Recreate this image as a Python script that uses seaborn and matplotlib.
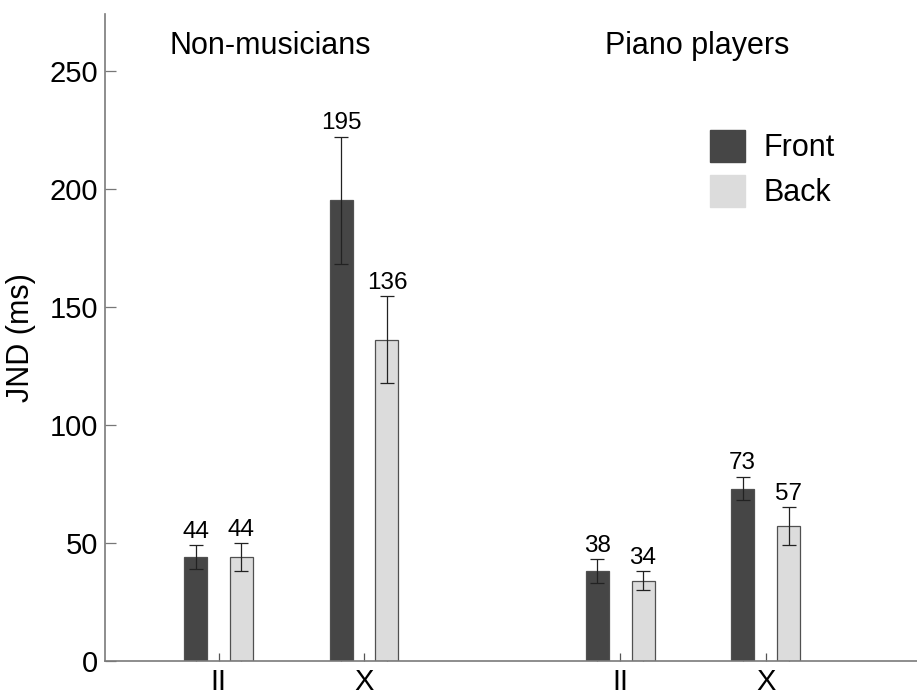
import matplotlib
matplotlib.use("Agg")
import matplotlib.pyplot as plt
import matplotlib.patches as mpatches
import numpy as np
import pandas as pd
import seaborn as sns

# Data
groups = ["Non-musicians", "Piano players"]
postures = ["II", "X"]
conditions = ["Front", "Back"]
front_jnd = [44, 195, 38, 73]
back_jnd = [44, 136, 34, 57]
front_err = [5, 27, 5, 5]
back_err = [6, 18.5, 4, 8]
labels_front = ["44", "195", "38", "73"]
labels_back = ["44", "136", "34", "57"]

colors = {"Front": "#464646", "Back": "#dcdcdc"}

sns.set_theme(style="white")
plt.rcParams["font.family"] = ["Liberation Sans", "DejaVu Sans"]
plt.rcParams["text.color"] = "black"
plt.rcParams["axes.labelcolor"] = "black"
plt.rcParams["xtick.labelcolor"] = "black"
plt.rcParams["ytick.labelcolor"] = "black"

# x layout: posture centres within each group, with a wider gap between groups
centres = np.array([1.0, 2.0, 3.76, 4.76])
offset = 0.1575
bar_w = 0.158

rows = []
for i, c in enumerate(centres):
    g = groups[i // 2]
    p = postures[i % 2]
    rows.append(dict(group=g, posture=p, condition="Front", pos=c - offset,
                     jnd=front_jnd[i], err=front_err[i], label=labels_front[i]))
    rows.append(dict(group=g, posture=p, condition="Back", pos=c + offset,
                     jnd=back_jnd[i], err=back_err[i], label=labels_back[i]))
df = pd.DataFrame(rows)

fig = plt.figure(figsize=(9.17, 6.97), dpi=100)
ax = fig.add_axes([0.1145, 0.0517, 0.8855, 0.9283])

for cond in conditions:
    sub = df[df.condition == cond]
    sns.barplot(data=sub, x="pos", y="jnd", native_scale=True, width=bar_w,
                color=colors[cond], saturation=1, edgecolor="#505050",
                linewidth=0.9, errorbar=None, ax=ax)

ax.errorbar(df.pos, df.jnd, yerr=df.err, fmt="none", ecolor="#222222",
            elinewidth=0.9, capsize=5, capthick=0.9, zorder=5)

for _, r in df.iterrows():
    ax.text(r.pos, r.jnd + r.err + 1.0, r.label, ha="center", va="bottom",
            fontsize=17.5, color="black")

ax.set_xlim(0.22, 5.8)
ax.set_ylim(0, 274)

# ticks at every bar and at each posture centre; labels only at centres
ax.set_xticks(centres)
ax.set_xticklabels(postures * 2, fontsize=21)
ax.set_xticks(df.pos.values, minor=True)
ax.tick_params(axis="x", which="both", direction="in", length=6, width=0.9,
               color="#555555", bottom=True, pad=5)
ax.set_yticks([0, 50, 100, 150, 200, 250])
ax.set_yticklabels(["0", "50", "100", "150", "200", "250"], fontsize=21)
ax.tick_params(axis="y", direction="in", length=8, width=0.9,
               color="#777777", left=True, pad=5)

ax.set_xlabel("")
ax.set_ylabel("JND (ms)", fontsize=22, labelpad=10)

for side in ["top", "right"]:
    ax.spines[side].set_visible(False)
for side in ["left", "bottom"]:
    ax.spines[side].set_color("#7a7a7a")
    ax.spines[side].set_linewidth(1.2)

for g, x in zip(groups, [270, 697]):
    fig.text(x / 917, 1 - 46 / 697, g, ha="center", va="center", fontsize=22)

handles = [mpatches.Patch(facecolor=colors[c], edgecolor=colors[c], label=c)
           for c in conditions]
fig.legend(handles=handles, loc="upper left",
           bbox_to_anchor=(698 / 917, 1 - 118 / 697), frameon=False,
           fontsize=22, handlelength=1.15, handleheight=1.2,
           handletextpad=0.6, labelspacing=0.4, borderaxespad=0)

fig.savefig("out.png", dpi=100)
